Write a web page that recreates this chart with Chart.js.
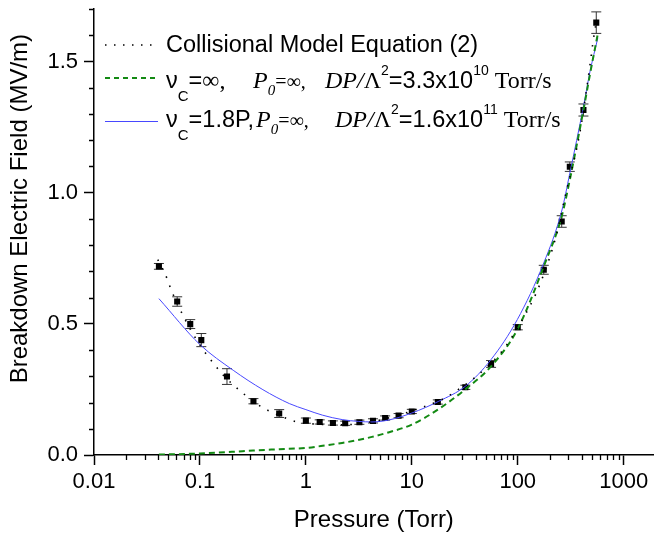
<!DOCTYPE html>
<html>
<head>
<meta charset="utf-8">
<script src="https://cdn.jsdelivr.net/npm/chart.js"></script>
<style>
  body { margin: 0; background: #fff; }
  canvas { display: block; }
</style>
</head>
<body>
<canvas id="chart" width="658" height="538"></canvas>
<script>
// measured points (square markers with error bars)
const expPressure = [0.041, 0.061, 0.081, 0.103, 0.18, 0.32, 0.56, 1.0, 1.35, 1.8, 2.35, 3.2, 4.3, 5.6, 7.5, 10, 17.6, 32, 56, 100, 176, 260, 310, 417, 551];
const expField = [0.719, 0.585, 0.499, 0.438, 0.299, 0.205, 0.158, 0.131, 0.126, 0.122, 0.121, 0.125, 0.130, 0.141, 0.150, 0.166, 0.202, 0.258, 0.347, 0.487, 0.706, 0.89, 1.099, 1.315, 1.648];
const expError = [0.011, 0.018, 0.017, 0.025, 0.030, 0.010, 0.015, 0.010, 0.008, 0.008, 0.008, 0.008, 0.008, 0.008, 0.008, 0.008, 0.008, 0.008, 0.013, 0.010, 0.017, 0.022, 0.018, 0.023, 0.041];

// collisional model equation (2), dotted
const collPressure = [0.04, 0.049, 0.053, 0.07, 0.088, 0.115, 0.136, 0.161, 0.242, 0.356, 0.444, 0.673, 0.817, 1.2, 2, 3, 5, 10, 20, 26, 39, 56, 69, 81, 120, 159, 225, 285, 385, 460, 531, 560];
const collField = [0.745, 0.672, 0.634, 0.528, 0.455, 0.384, 0.347, 0.310, 0.243, 0.191, 0.169, 0.138, 0.126, 0.118, 0.115, 0.118, 0.133, 0.168, 0.215, 0.243, 0.294, 0.35, 0.389, 0.427, 0.541, 0.643, 0.82, 0.998, 1.227, 1.43, 1.613, 1.66];

// nu_c = inf, dashed green
const greenPressure = [0.041, 0.06, 0.1, 0.2, 0.317, 0.56, 1.0, 1.5, 2.2, 3.2, 4.2, 6, 10, 17.6, 31.7, 56, 99, 176, 260, 310, 417, 480, 570];
const greenField = [0.002, 0.003, 0.006, 0.012, 0.017, 0.022, 0.027, 0.036, 0.046, 0.058, 0.069, 0.086, 0.116, 0.173, 0.249, 0.338, 0.478, 0.719, 0.91, 1.049, 1.315, 1.45, 1.605];

// nu_c = 1.8P, solid blue
const bluePressure = [0.041, 0.1, 0.206, 0.393, 0.698, 1.0, 1.43, 2.2, 3.15, 4.2, 6, 10, 18, 32, 56, 99, 176, 260, 310, 417, 480, 570];
const blueField = [0.596, 0.421, 0.323, 0.249, 0.196, 0.173, 0.152, 0.135, 0.128, 0.126, 0.133, 0.16, 0.205, 0.262, 0.364, 0.516, 0.732, 0.93, 1.074, 1.328, 1.46, 1.59];

// axes
const xMajor = [0.01, 0.1, 1, 10, 100, 1000];
const yLabels = [0, 0.5, 1.0, 1.5];

const SANS = '"Liberation Sans", Arial, sans-serif';
const SERIF = '"Liberation Serif", "Times New Roman", serif';

function toPoints(xs, ys) {
  return xs.map((x, i) => ({ x: x, y: ys[i] }));
}

// tick positions: 1..9 per decade, major at powers of ten
const xTickValues = [];
xMajor.forEach((d, i) => {
  xTickValues.push(d);
  if (i < xMajor.length - 1) {
    for (let m = 2; m <= 9; m++) xTickValues.push(+(m * d).toPrecision(3));
  }
});
const yTickValues = [];
for (let i = 0; i <= 17; i++) yTickValues.push(i / 10);

const errorBars = {
  id: "errorBars",
  beforeDatasetsDraw(chart) {
    const ctx = chart.ctx;
    const xs = chart.scales.x, ys = chart.scales.y;
    ctx.save();
    ctx.strokeStyle = "#333";
    ctx.lineWidth = 1;
    expPressure.forEach((p, i) => {
      const px = xs.getPixelForValue(p);
      const top = ys.getPixelForValue(expField[i] + expError[i]);
      const bot = ys.getPixelForValue(expField[i] - expError[i]);
      ctx.beginPath();
      ctx.moveTo(px, top); ctx.lineTo(px, bot);
      ctx.moveTo(px - 5, top); ctx.lineTo(px + 5, top);
      ctx.moveTo(px - 5, bot); ctx.lineTo(px + 5, bot);
      ctx.stroke();
    });
    ctx.restore();
  }
};

// shorter marks for minor ticks
const minorTicks = {
  id: "minorTicks",
  afterDraw(chart) {
    const ctx = chart.ctx;
    const xs = chart.scales.x, ys = chart.scales.y;
    ctx.save();
    ctx.strokeStyle = "#000";
    ctx.lineWidth = 1.3;
    ctx.beginPath();
    xs.ticks.forEach(t => {
      if (t.major) return;
      const px = Math.round(xs.getPixelForValue(t.value)) + 0.5;
      ctx.moveTo(px, xs.top); ctx.lineTo(px, xs.top + 5);
    });
    ys.ticks.forEach(t => {
      if (t.major) return;
      const py = Math.round(ys.getPixelForValue(t.value)) + 0.5;
      ctx.moveTo(ys.right, py); ctx.lineTo(ys.right - 5, py);
    });
    ctx.stroke();
    ctx.restore();
  }
};

const runFonts = {
  sans: { font: "23.5px " + SANS, dy: 0 },
  sub: { font: "15px " + SANS, dy: 13 },
  sup: { font: "14px " + SANS, dy: -13 },
  serif: { font: "24px " + SERIF, dy: 0 },
  serifI: { font: "italic 24px " + SERIF, dy: 0 },
  serifIsub: { font: "italic 15px " + SERIF, dy: 7 },
  serifSmall: { font: "20px " + SERIF, dy: 0 }
};

const legendRows = [
  { sample: "dot", lineY: 45, baseline: 52, runs: [["Collisional Model Equation (2)", "sans"]] },
  { sample: "dash", lineY: 78, baseline: 88, runs: [
    ["ν", "sans"], ["C", "sub"], ["=", "sans"], ["∞,", "serif"],
    ["P", "serifI", 253], ["0", "serifIsub"], ["=∞,", "serifSmall"],
    ["DP/", "serifI", 325], ["Λ", "serif"], ["2", "sup"], ["=3.3x10", "sans"], ["10", "sup"], [" Torr/s", "serif"]
  ] },
  { sample: "solid", lineY: 121.5, baseline: 127, runs: [
    ["ν", "sans"], ["C", "sub"], ["=1.8P,", "sans"],
    ["P", "serifI", 256], ["0", "serifIsub"], ["=∞,", "serifSmall"],
    ["DP/", "serifI", 335], ["Λ", "serif"], ["2", "sup"], ["=1.6x10", "sans"], ["11", "sup"], [" Torr/s", "serif"]
  ] }
];

const legendBox = {
  id: "legendBox",
  afterDraw(chart) {
    const ctx = chart.ctx;
    ctx.save();
    legendRows.forEach(row => {
      ctx.beginPath();
      if (row.sample === "dot") {
        ctx.strokeStyle = "#000"; ctx.lineWidth = 1.5; ctx.setLineDash([1.5, 7.5]);
      } else if (row.sample === "dash") {
        ctx.strokeStyle = "#138a13"; ctx.lineWidth = 2; ctx.setLineDash([5, 4]);
      } else {
        ctx.strokeStyle = "#4848ff"; ctx.lineWidth = 1; ctx.setLineDash([]);
      }
      ctx.moveTo(105, row.lineY); ctx.lineTo(158, row.lineY);
      ctx.stroke();
      ctx.setLineDash([]);

      ctx.fillStyle = "#000";
      ctx.textBaseline = "alphabetic";
      ctx.textAlign = "left";
      let x = 166;
      row.runs.forEach(r => {
        const f = runFonts[r[1]];
        if (r[2] !== undefined) x = r[2];
        ctx.font = f.font;
        ctx.fillText(r[0], x, row.baseline + f.dy);
        x += ctx.measureText(r[0]).width;
      });
    });
    ctx.restore();
  }
};

const ctx = document.getElementById("chart").getContext("2d");

new Chart(ctx, {
  type: "line",
  data: {
    datasets: [
      {
        label: "Collisional Model Equation (2)",
        data: toPoints(collPressure, collField),
        borderColor: "#000",
        borderWidth: 1.6,
        borderDash: [1.5, 8],
        pointRadius: 0,
        fill: false,
        cubicInterpolationMode: "monotone"
      },
      {
        label: "nu_c = inf",
        data: toPoints(greenPressure, greenField),
        borderColor: "#138a13",
        borderWidth: 2,
        borderDash: [6, 4],
        pointRadius: 0,
        fill: false,
        cubicInterpolationMode: "monotone"
      },
      {
        label: "nu_c = 1.8P",
        data: toPoints(bluePressure, blueField),
        borderColor: "#4848ff",
        borderWidth: 1,
        pointRadius: 0,
        fill: false,
        cubicInterpolationMode: "monotone"
      },
      {
        label: "Experiment",
        data: toPoints(expPressure, expField),
        showLine: false,
        pointStyle: "rect",
        pointRadius: 4.3,
        pointBackgroundColor: "#000",
        pointBorderColor: "#000",
        pointBorderWidth: 0
      }
    ]
  },
  options: {
    responsive: false,
    animation: false,
    layout: { padding: { top: 9, right: 0, bottom: 0, left: 0 } },
    plugins: {
      legend: { display: false },
      tooltip: { enabled: false }
    },
    scales: {
      x: {
        type: "logarithmic",
        min: 0.01,
        max: 1920,
        afterBuildTicks: s => {
          s.ticks = xTickValues.map(v => ({ value: v, major: xMajor.includes(v) }));
        },
        afterFit: s => { s.height = 83; s.paddingLeft = 0; s.paddingRight = 0; },
        ticks: {
          autoSkip: false,
          maxRotation: 0,
          padding: 4,
          color: "#000",
          font: { family: SANS, size: 22 },
          callback: v => xMajor.includes(v) ? String(v) : ""
        },
        grid: {
          drawOnChartArea: false,
          drawTicks: true,
          tickLength: 10,
          tickWidth: 1.5,
          tickColor: c => (c.tick && c.tick.major) ? "#000" : "rgba(0,0,0,0)"
        },
        border: { display: true, color: "#000", width: 1.5 },
        title: {
          display: true,
          text: "Pressure (Torr)",
          color: "#000",
          font: { family: SANS, size: 24 },
          padding: { top: 0, bottom: 3 }
        }
      },
      y: {
        min: 0,
        max: 1.7,
        afterBuildTicks: s => {
          s.ticks = yTickValues.map(v => ({ value: v, major: yLabels.includes(v) }));
        },
        afterFit: s => { s.width = 94; s.paddingTop = 0; s.paddingBottom = 0; },
        ticks: {
          autoSkip: false,
          padding: 6,
          color: "#000",
          font: { family: SANS, size: 22 },
          callback: v => yLabels.includes(v) ? v.toFixed(1) : ""
        },
        grid: {
          drawOnChartArea: false,
          drawTicks: true,
          tickLength: 10,
          tickWidth: 1.5,
          tickColor: c => (c.tick && c.tick.major) ? "#000" : "rgba(0,0,0,0)"
        },
        border: { display: true, color: "#000", width: 1.5 },
        title: {
          display: true,
          text: "       Breakdown Electric Field (MV/m)",
          color: "#000",
          font: { family: SANS, size: 24 },
          padding: { top: 6, bottom: 0 }
        }
      }
    }
  },
  plugins: [errorBars, minorTicks, legendBox]
});
</script>
</body>
</html>
